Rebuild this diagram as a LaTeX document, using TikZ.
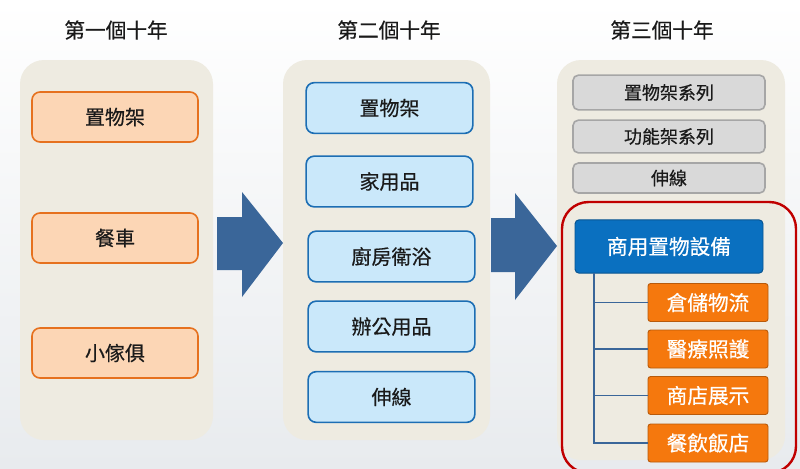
\documentclass[tikz,border=0pt]{standalone}
\usepackage{fontspec}
\setmainfont{Noto Sans CJK TC}[FakeBold=0.5]
\usepackage{xcolor}

\definecolor{panelbg}{RGB}{238,235,225}
\definecolor{orlight}{RGB}{252,214,181}
\definecolor{orline}{RGB}{230,113,30}
\definecolor{bllight}{RGB}{202,232,250}
\definecolor{blline}{RGB}{28,110,180}
\definecolor{grfill}{RGB}{217,217,217}
\definecolor{grline}{RGB}{166,166,166}
\definecolor{hdrblue}{RGB}{10,112,192}
\definecolor{ordark}{RGB}{245,120,13}
\definecolor{arrowblue}{RGB}{58,102,153}
\definecolor{framered}{RGB}{192,0,0}
\definecolor{txtdark}{RGB}{26,26,26}

\tikzset{
  panel/.style={fill=panelbg, draw=none, rounded corners=18pt},
  oldbox/.style={draw=orline, fill=orlight, line width=1.2pt, rounded corners=6pt,
    minimum width=124.5pt, minimum height=37.5pt, text=txtdark, font=\fontsize{15}{18}\selectfont},
  midbox/.style={draw=blline, fill=bllight, line width=1.2pt, rounded corners=6pt,
    minimum width=125pt, minimum height=38pt, text=txtdark, font=\fontsize{15}{18}\selectfont},
  newbox/.style={draw=grline, fill=grfill, line width=1.2pt, rounded corners=4pt,
    minimum width=144pt, text=txtdark, font=\fontsize{13.5}{16}\selectfont},
  hdrbox/.style={draw=hdrblue!75!black, fill=hdrblue, line width=0.7pt, rounded corners=3pt,
    minimum width=141pt, minimum height=40pt, text=white, font=\fontsize{15.5}{18}\selectfont},
  subbox/.style={draw=ordark!75!black, fill=ordark, line width=0.7pt, rounded corners=2pt,
    minimum width=90pt, minimum height=28.5pt, text=white, font=\fontsize{15.5}{18}\selectfont},
  title/.style={text=txtdark, font=\fontsize{15.5}{18}\selectfont},
  bigarrow/.style={fill=arrowblue, draw=none},
  treeline/.style={draw=arrowblue, line width=1.3pt},
}

\begin{document}
\begin{tikzpicture}[x=0.75pt,y=0.75pt,yscale=-1,xscale=1]
    %Background
    \shade[top color=white, bottom color={rgb,255:red,232;green,235;blue,238}] (0,0) rectangle (800,468);
    \useasboundingbox (0,0) rectangle (800,468);

    %Shape: Panels
    \path[panel] (20,60) rectangle (213,440);
    \path[panel] (283,60) rectangle (490,440);
    \path[panel] (557,60) rectangle (785,460);

    % Text Node
    \draw (116,30) node [title] (t1) {第一個十年};
    \draw (389,30) node [title] (t2) {第二個十年};
    \draw (662,30) node [title] (t3) {第三個十年};

    %Shape: first decade
    \draw (115,117) node [oldbox] (a1) {置物架};
    \draw (115,238) node [oldbox] (a2) {餐車};
    \draw (115,353) node [oldbox] (a3) {小傢俱};

    %Shape: second decade
    \draw (389.5,108) node [midbox] (b1) {置物架};
    \draw (389.5,181.5) node [midbox] (b2) {家用品};
    \draw (391.5,256.5) node [midbox] (b3) {廚房衛浴};
    \draw (391.5,326.5) node [midbox] (b4) {辦公用品};
    \draw (391.5,397) node [midbox] (b5) {伸線};

    %Shape: Right Arrows
    \fill[bigarrow] (217,217) -- (242,217) -- (242,192) -- (283,243) -- (242,297) -- (242,270) -- (217,270) -- cycle;
    \fill[bigarrow] (491,218) -- (515,218) -- (515,193) -- (557,246) -- (515,300) -- (515,272) -- (491,272) -- cycle;

    %Shape: third decade
    \draw (669,92.5) node [newbox, minimum height=26pt] (c1) {置物架系列};
    \draw (669,136.5) node [newbox, minimum height=24.5pt] (c2) {功能架系列};
    \draw (669,178) node [newbox, minimum height=22.5pt] (c3) {伸線};

    %Shape: red frame
    \draw[framered, line width=1.8pt, rounded corners=20pt] (562,202) rectangle (796,473);

    \draw (669,246.5) node [hdrbox] (hdr) {商用置物設備};
    \draw (708,302.5) node [subbox] (d1) {倉儲物流};
    \draw (708,349) node [subbox] (d2) {醫療照護};
    \draw (708,395.5) node [subbox] (d3) {商店展示};
    \draw (708,443) node [subbox] (d4) {餐飲飯店};

    %Straight Lines
    \coordinate (trunk) at (594,273);
    \draw[treeline] (trunk) |- (d1.west);
    \draw[treeline] (trunk) |- (d2.west);
    \draw[treeline] (trunk) |- (d3.west);
    \draw[treeline] (trunk) |- (d4.west);

\end{tikzpicture}
\end{document}
